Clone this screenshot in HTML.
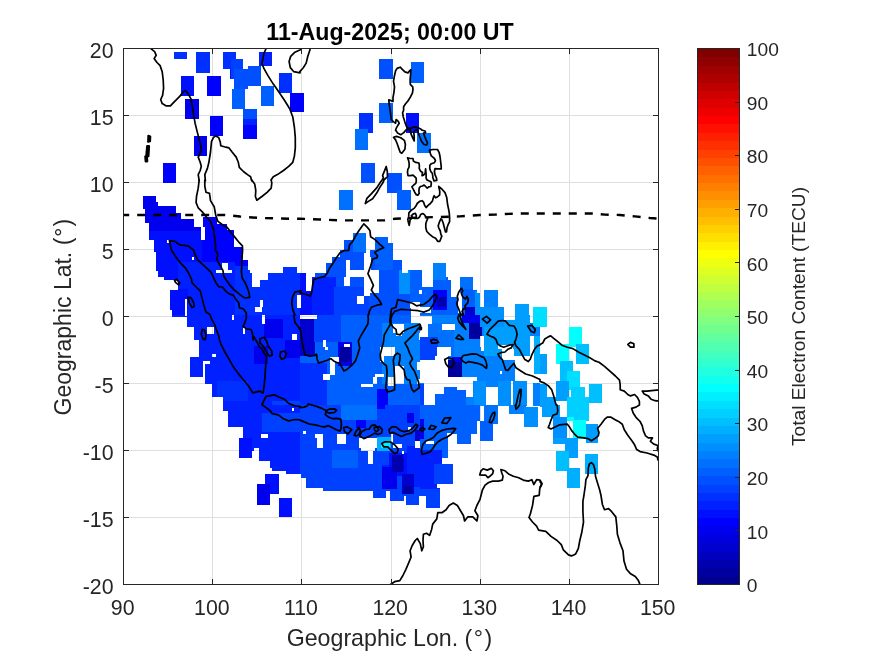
<!DOCTYPE html>
<html><head><meta charset="utf-8"><title>11-Aug-2025; 00:00 UT</title>
<style>html,body{margin:0;padding:0;background:#fff;}svg{display:block;}</style></head>
<body>
<svg width="875" height="656" viewBox="0 0 875 656">
<rect x="0" y="0" width="875" height="656" fill="#fff"/>
<defs><clipPath id="ax"><rect x="123.5" y="48.5" width="535.0" height="536.0"/></clipPath></defs>
<g stroke="#dfdfdf" stroke-width="1" shape-rendering="crispEdges">
<line x1="212.7" y1="48.5" x2="212.7" y2="584.5"/>
<line x1="301.8" y1="48.5" x2="301.8" y2="584.5"/>
<line x1="391.0" y1="48.5" x2="391.0" y2="584.5"/>
<line x1="480.2" y1="48.5" x2="480.2" y2="584.5"/>
<line x1="569.3" y1="48.5" x2="569.3" y2="584.5"/>
<line x1="123.5" y1="517.5" x2="658.5" y2="517.5"/>
<line x1="123.5" y1="450.5" x2="658.5" y2="450.5"/>
<line x1="123.5" y1="383.5" x2="658.5" y2="383.5"/>
<line x1="123.5" y1="316.5" x2="658.5" y2="316.5"/>
<line x1="123.5" y1="249.5" x2="658.5" y2="249.5"/>
<line x1="123.5" y1="182.5" x2="658.5" y2="182.5"/>
<line x1="123.5" y1="115.5" x2="658.5" y2="115.5"/>
</g>
<g clip-path="url(#ax)" shape-rendering="crispEdges">
<mask id="occ" maskUnits="userSpaceOnUse" x="0" y="0" width="875" height="656"><rect x="0" y="0" width="875" height="656" fill="#000"/><rect x="173.90" y="52.20" width="13.17" height="6.79" fill="#fff"/><rect x="196.11" y="52.20" width="13.78" height="20.57" fill="#fff"/><rect x="223.27" y="52.20" width="12.96" height="16.46" fill="#fff"/><rect x="230.47" y="58.99" width="12.34" height="19.95" fill="#fff"/><rect x="234.17" y="68.66" width="13.78" height="20.16" fill="#fff"/><rect x="247.95" y="65.57" width="12.96" height="19.95" fill="#fff"/><rect x="259.27" y="52.20" width="12.96" height="13.37" fill="#fff"/><rect x="181.10" y="75.86" width="12.96" height="19.95" fill="#fff"/><rect x="207.02" y="75.86" width="13.78" height="19.95" fill="#fff"/><rect x="232.11" y="88.82" width="12.75" height="19.95" fill="#fff"/><rect x="260.91" y="85.53" width="12.96" height="20.16" fill="#fff"/><rect x="279.43" y="72.77" width="12.75" height="19.95" fill="#fff"/><rect x="290.33" y="92.73" width="13.17" height="19.75" fill="#fff"/><rect x="185.01" y="98.90" width="13.78" height="19.75" fill="#fff"/><rect x="243.43" y="108.77" width="13.37" height="10.29" fill="#fff"/><rect x="243.43" y="119.06" width="13.37" height="6.17" fill="#fff"/><rect x="243.43" y="125.23" width="13.37" height="13.37" fill="#fff"/><rect x="210.10" y="115.97" width="12.75" height="19.95" fill="#fff"/><rect x="194.06" y="135.93" width="12.96" height="19.75" fill="#fff"/><rect x="163.20" y="162.87" width="12.75" height="19.95" fill="#fff"/><rect x="379.20" y="58.99" width="13.78" height="19.95" fill="#fff"/><rect x="411.09" y="62.07" width="12.96" height="20.57" fill="#fff"/><rect x="379.20" y="103.01" width="13.78" height="19.75" fill="#fff"/><rect x="359.25" y="112.89" width="13.78" height="19.95" fill="#fff"/><rect x="355.13" y="128.93" width="12.75" height="20.98" fill="#fff"/><rect x="406.35" y="112.89" width="12.55" height="19.95" fill="#fff"/><rect x="417.26" y="133.05" width="13.58" height="19.54" fill="#fff"/><rect x="361.30" y="162.87" width="13.37" height="19.95" fill="#fff"/><rect x="387.43" y="172.95" width="14.40" height="20.16" fill="#fff"/><rect x="339.09" y="190.29" width="13.99" height="19.54" fill="#fff"/><rect x="396.69" y="190.29" width="14.40" height="19.54" fill="#fff"/><rect x="484.11" y="290.06" width="13.99" height="18.51" fill="#fff"/><rect x="480.00" y="306.93" width="24.07" height="20.16" fill="#fff"/><rect x="514.97" y="304.05" width="13.99" height="19.95" fill="#fff"/><rect x="533.07" y="307.13" width="13.78" height="19.95" fill="#fff"/><rect x="239.31" y="437.66" width="12.75" height="20.16" fill="#fff"/><rect x="265.23" y="474.07" width="13.58" height="19.75" fill="#fff"/><rect x="257.21" y="483.94" width="12.55" height="20.98" fill="#fff"/><rect x="279.02" y="497.93" width="12.75" height="19.54" fill="#fff"/><rect x="540.00" y="315.00" width="6.86" height="11.66" fill="#fff"/><rect x="569.07" y="327.07" width="12.75" height="20.16" fill="#fff"/><rect x="556.18" y="344.07" width="12.89" height="19.61" fill="#fff"/><rect x="575.93" y="344.07" width="13.03" height="19.61" fill="#fff"/><rect x="540.00" y="354.09" width="6.86" height="19.89" fill="#fff"/><rect x="560.30" y="360.94" width="12.62" height="19.89" fill="#fff"/><rect x="566.74" y="371.23" width="13.30" height="19.20" fill="#fff"/><rect x="556.18" y="381.10" width="12.89" height="19.61" fill="#fff"/><rect x="571.27" y="387.00" width="13.71" height="19.89" fill="#fff"/><rect x="588.96" y="383.98" width="13.03" height="19.47" fill="#fff"/><rect x="540.00" y="383.57" width="6.86" height="23.31" fill="#fff"/><rect x="567.43" y="397.29" width="21.94" height="9.60" fill="#fff"/><rect x="542.74" y="397.29" width="13.44" height="9.60" fill="#fff"/><rect x="542.06" y="405.00" width="17.83" height="11.66" fill="#fff"/><rect x="567.43" y="405.00" width="21.26" height="15.77" fill="#fff"/><rect x="567.43" y="416.66" width="6.86" height="4.11" fill="#fff"/><rect x="572.91" y="420.09" width="13.03" height="18.51" fill="#fff"/><rect x="553.03" y="416.66" width="13.71" height="21.26" fill="#fff"/><rect x="585.94" y="424.20" width="12.34" height="19.20" fill="#fff"/><rect x="553.03" y="437.91" width="13.71" height="6.17" fill="#fff"/><rect x="565.37" y="437.91" width="12.34" height="19.89" fill="#fff"/><rect x="556.18" y="450.94" width="12.89" height="19.89" fill="#fff"/><rect x="567.43" y="468.09" width="12.62" height="19.89" fill="#fff"/><rect x="584.98" y="454.10" width="12.89" height="19.47" fill="#fff"/><rect x="483.77" y="405.00" width="14.40" height="18.51" fill="#fff"/><rect x="480.34" y="420.77" width="12.34" height="19.89" fill="#fff"/><rect x="509.14" y="405.00" width="17.14" height="8.50" fill="#fff"/><rect x="524.23" y="407.06" width="13.71" height="19.89" fill="#fff"/><rect x="142.89" y="195.90" width="13.26" height="6.88" fill="#fff"/><rect x="142.89" y="202.48" width="15.32" height="3.39" fill="#fff"/><rect x="142.89" y="205.56" width="33.21" height="3.39" fill="#fff"/><rect x="144.95" y="208.65" width="31.16" height="4.41" fill="#fff"/><rect x="144.95" y="212.76" width="36.30" height="4.41" fill="#fff"/><rect x="144.95" y="216.88" width="36.30" height="2.77" fill="#fff"/><rect x="203.16" y="216.88" width="13.67" height="2.77" fill="#fff"/><rect x="144.95" y="219.35" width="49.26" height="3.59" fill="#fff"/><rect x="203.16" y="219.35" width="13.67" height="3.59" fill="#fff"/><rect x="149.27" y="222.64" width="44.94" height="1.74" fill="#fff"/><rect x="203.16" y="222.64" width="13.67" height="1.74" fill="#fff"/><rect x="149.27" y="224.08" width="44.94" height="2.97" fill="#fff"/><rect x="203.16" y="224.08" width="23.96" height="2.97" fill="#fff"/><rect x="149.27" y="226.75" width="51.73" height="3.39" fill="#fff"/><rect x="204.60" y="226.75" width="22.52" height="3.39" fill="#fff"/><rect x="149.27" y="229.84" width="51.73" height="9.97" fill="#fff"/><rect x="204.60" y="229.84" width="29.72" height="9.97" fill="#fff"/><rect x="153.79" y="239.51" width="80.53" height="7.50" fill="#fff"/><rect x="153.79" y="246.71" width="87.73" height="5.44" fill="#fff"/><rect x="155.85" y="251.85" width="85.67" height="8.53" fill="#fff"/><rect x="155.85" y="260.08" width="92.25" height="7.50" fill="#fff"/><rect x="155.85" y="267.28" width="92.25" height="3.39" fill="#fff"/><rect x="283.39" y="267.28" width="13.67" height="3.39" fill="#fff"/><rect x="157.91" y="270.36" width="92.25" height="3.39" fill="#fff"/><rect x="283.39" y="270.36" width="13.67" height="3.39" fill="#fff"/><rect x="157.91" y="273.45" width="93.90" height="3.39" fill="#fff"/><rect x="267.96" y="273.45" width="33.21" height="3.39" fill="#fff"/><rect x="164.49" y="276.54" width="87.32" height="3.80" fill="#fff"/><rect x="267.96" y="276.54" width="33.21" height="3.80" fill="#fff"/><rect x="177.86" y="280.03" width="73.95" height="7.09" fill="#fff"/><rect x="259.74" y="280.03" width="41.44" height="7.09" fill="#fff"/><rect x="177.86" y="286.82" width="123.32" height="3.39" fill="#fff"/><rect x="170.25" y="289.91" width="130.93" height="19.84" fill="#fff"/><rect x="172.10" y="309.45" width="129.08" height="6.47" fill="#fff"/><rect x="352.65" y="233.08" width="13.33" height="4.41" fill="#fff"/><rect x="352.65" y="237.19" width="13.33" height="3.04" fill="#fff"/><rect x="375.00" y="237.19" width="12.92" height="3.04" fill="#fff"/><rect x="344.01" y="239.94" width="21.97" height="3.04" fill="#fff"/><rect x="375.00" y="239.94" width="12.92" height="3.04" fill="#fff"/><rect x="344.01" y="242.68" width="21.97" height="7.84" fill="#fff"/><rect x="375.00" y="242.68" width="18.13" height="7.84" fill="#fff"/><rect x="339.62" y="250.22" width="26.36" height="2.36" fill="#fff"/><rect x="369.79" y="250.22" width="23.34" height="2.36" fill="#fff"/><rect x="339.62" y="252.28" width="24.30" height="5.10" fill="#fff"/><rect x="369.79" y="252.28" width="23.34" height="5.10" fill="#fff"/><rect x="332.08" y="257.08" width="31.84" height="3.04" fill="#fff"/><rect x="371.16" y="257.08" width="21.97" height="3.04" fill="#fff"/><rect x="332.08" y="259.82" width="14.01" height="3.73" fill="#fff"/><rect x="349.91" y="259.82" width="14.01" height="3.73" fill="#fff"/><rect x="371.16" y="259.82" width="30.75" height="3.73" fill="#fff"/><rect x="325.91" y="263.25" width="20.19" height="7.16" fill="#fff"/><rect x="349.91" y="263.25" width="14.01" height="7.16" fill="#fff"/><rect x="371.16" y="263.25" width="30.75" height="7.16" fill="#fff"/><rect x="325.91" y="270.11" width="20.19" height="3.04" fill="#fff"/><rect x="378.71" y="270.11" width="23.20" height="3.04" fill="#fff"/><rect x="408.19" y="270.11" width="11.96" height="3.04" fill="#fff"/><rect x="299.85" y="272.85" width="6.06" height="4.14" fill="#fff"/><rect x="314.66" y="272.85" width="31.43" height="4.14" fill="#fff"/><rect x="378.71" y="272.85" width="41.44" height="4.14" fill="#fff"/><rect x="299.85" y="276.69" width="6.06" height="9.49" fill="#fff"/><rect x="311.92" y="276.69" width="32.39" height="9.49" fill="#fff"/><rect x="349.91" y="276.69" width="14.01" height="9.49" fill="#fff"/><rect x="378.71" y="276.69" width="41.44" height="9.49" fill="#fff"/><rect x="299.85" y="285.88" width="6.06" height="5.10" fill="#fff"/><rect x="311.92" y="285.88" width="52.00" height="5.10" fill="#fff"/><rect x="378.71" y="285.88" width="41.44" height="5.10" fill="#fff"/><rect x="299.85" y="290.68" width="64.07" height="3.04" fill="#fff"/><rect x="378.71" y="290.68" width="41.44" height="3.04" fill="#fff"/><rect x="299.85" y="293.42" width="64.07" height="3.04" fill="#fff"/><rect x="369.79" y="293.42" width="50.36" height="3.04" fill="#fff"/><rect x="299.85" y="296.16" width="57.21" height="7.84" fill="#fff"/><rect x="363.62" y="296.16" width="56.53" height="7.84" fill="#fff"/><rect x="299.85" y="303.71" width="120.30" height="11.96" fill="#fff"/><rect x="432.89" y="262.98" width="13.19" height="7.43" fill="#fff"/><rect x="409.85" y="270.11" width="12.37" height="6.88" fill="#fff"/><rect x="432.89" y="270.11" width="13.19" height="6.88" fill="#fff"/><rect x="409.85" y="276.69" width="12.37" height="3.32" fill="#fff"/><rect x="432.89" y="276.69" width="14.97" height="3.32" fill="#fff"/><rect x="459.91" y="276.69" width="13.33" height="3.32" fill="#fff"/><rect x="409.85" y="279.71" width="12.37" height="7.84" fill="#fff"/><rect x="432.89" y="279.71" width="18.13" height="7.84" fill="#fff"/><rect x="459.91" y="279.71" width="13.33" height="7.84" fill="#fff"/><rect x="409.85" y="287.25" width="41.17" height="3.04" fill="#fff"/><rect x="459.91" y="287.25" width="13.33" height="3.04" fill="#fff"/><rect x="409.85" y="289.99" width="41.17" height="3.73" fill="#fff"/><rect x="459.91" y="289.99" width="17.44" height="3.73" fill="#fff"/><rect x="483.91" y="289.99" width="14.01" height="3.73" fill="#fff"/><rect x="409.85" y="293.42" width="41.17" height="3.73" fill="#fff"/><rect x="459.91" y="293.42" width="20.19" height="3.73" fill="#fff"/><rect x="483.91" y="293.42" width="14.01" height="3.73" fill="#fff"/><rect x="409.85" y="296.85" width="70.24" height="10.59" fill="#fff"/><rect x="483.91" y="296.85" width="14.01" height="10.59" fill="#fff"/><rect x="409.85" y="307.14" width="94.24" height="8.53" fill="#fff"/><rect x="515.18" y="307.14" width="14.01" height="8.53" fill="#fff"/><rect x="172.10" y="314.85" width="128.05" height="2.36" fill="#fff"/><rect x="187.12" y="316.91" width="113.03" height="10.17" fill="#fff"/><rect x="193.91" y="326.78" width="106.24" height="13.05" fill="#fff"/><rect x="199.05" y="339.54" width="101.10" height="17.79" fill="#fff"/><rect x="190.20" y="357.02" width="109.95" height="19.84" fill="#fff"/><rect x="205.22" y="376.56" width="94.93" height="7.50" fill="#fff"/><rect x="211.80" y="383.76" width="88.35" height="13.67" fill="#fff"/><rect x="222.71" y="397.14" width="77.44" height="13.67" fill="#fff"/><rect x="228.26" y="410.51" width="71.89" height="16.76" fill="#fff"/><rect x="243.28" y="426.96" width="56.87" height="11.61" fill="#fff"/><rect x="239.16" y="438.28" width="60.99" height="12.64" fill="#fff"/><rect x="299.85" y="314.85" width="120.30" height="90.81" fill="#fff"/><rect x="431.51" y="314.85" width="72.30" height="5.79" fill="#fff"/><rect x="515.85" y="314.85" width="14.01" height="5.79" fill="#fff"/><rect x="532.99" y="314.85" width="7.16" height="5.79" fill="#fff"/><rect x="431.51" y="320.34" width="98.36" height="3.04" fill="#fff"/><rect x="532.99" y="320.34" width="7.16" height="3.04" fill="#fff"/><rect x="431.51" y="323.08" width="108.64" height="0.99" fill="#fff"/><rect x="428.08" y="323.76" width="14.01" height="6.47" fill="#fff"/><rect x="454.82" y="323.76" width="85.33" height="6.47" fill="#fff"/><rect x="428.08" y="329.94" width="112.07" height="5.79" fill="#fff"/><rect x="428.08" y="335.42" width="52.41" height="1.67" fill="#fff"/><rect x="483.62" y="335.42" width="46.24" height="1.67" fill="#fff"/><rect x="533.68" y="335.42" width="6.47" height="1.67" fill="#fff"/><rect x="419.85" y="336.79" width="60.64" height="7.84" fill="#fff"/><rect x="483.62" y="336.79" width="46.24" height="7.84" fill="#fff"/><rect x="533.68" y="336.79" width="6.47" height="7.84" fill="#fff"/><rect x="419.85" y="344.34" width="60.64" height="3.04" fill="#fff"/><rect x="483.62" y="344.34" width="14.70" height="3.04" fill="#fff"/><rect x="513.11" y="344.34" width="16.76" height="3.04" fill="#fff"/><rect x="533.68" y="344.34" width="6.47" height="3.04" fill="#fff"/><rect x="419.85" y="347.08" width="17.44" height="2.36" fill="#fff"/><rect x="450.71" y="347.08" width="29.79" height="2.36" fill="#fff"/><rect x="483.62" y="347.08" width="14.70" height="2.36" fill="#fff"/><rect x="513.11" y="347.08" width="16.76" height="2.36" fill="#fff"/><rect x="533.68" y="347.08" width="6.47" height="2.36" fill="#fff"/><rect x="419.85" y="349.14" width="17.44" height="1.67" fill="#fff"/><rect x="450.71" y="349.14" width="29.79" height="1.67" fill="#fff"/><rect x="483.62" y="349.14" width="18.81" height="1.67" fill="#fff"/><rect x="514.48" y="349.14" width="15.39" height="1.67" fill="#fff"/><rect x="533.68" y="349.14" width="6.47" height="1.67" fill="#fff"/><rect x="419.85" y="350.51" width="17.44" height="5.79" fill="#fff"/><rect x="450.71" y="350.51" width="51.73" height="5.79" fill="#fff"/><rect x="514.48" y="350.51" width="15.39" height="5.79" fill="#fff"/><rect x="533.68" y="350.51" width="6.47" height="5.79" fill="#fff"/><rect x="419.85" y="355.99" width="15.39" height="4.41" fill="#fff"/><rect x="447.96" y="355.99" width="54.47" height="4.41" fill="#fff"/><rect x="533.68" y="355.99" width="6.47" height="4.41" fill="#fff"/><rect x="447.96" y="360.11" width="66.81" height="14.01" fill="#fff"/><rect x="533.68" y="360.11" width="6.47" height="14.01" fill="#fff"/><rect x="447.96" y="373.82" width="66.81" height="3.04" fill="#fff"/><rect x="477.45" y="376.56" width="37.33" height="4.41" fill="#fff"/><rect x="473.34" y="380.68" width="37.33" height="3.04" fill="#fff"/><rect x="513.11" y="380.68" width="14.01" height="3.04" fill="#fff"/><rect x="419.85" y="383.42" width="4.41" height="3.73" fill="#fff"/><rect x="473.34" y="383.42" width="37.33" height="3.73" fill="#fff"/><rect x="513.11" y="383.42" width="14.01" height="3.73" fill="#fff"/><rect x="532.99" y="383.42" width="7.16" height="3.73" fill="#fff"/><rect x="419.85" y="386.85" width="4.41" height="3.73" fill="#fff"/><rect x="443.85" y="386.85" width="13.33" height="3.73" fill="#fff"/><rect x="473.34" y="386.85" width="12.64" height="3.73" fill="#fff"/><rect x="498.02" y="386.85" width="12.64" height="3.73" fill="#fff"/><rect x="513.11" y="386.85" width="14.01" height="3.73" fill="#fff"/><rect x="532.99" y="386.85" width="7.16" height="3.73" fill="#fff"/><rect x="419.85" y="390.28" width="4.41" height="3.73" fill="#fff"/><rect x="443.85" y="390.28" width="22.24" height="3.73" fill="#fff"/><rect x="473.34" y="390.28" width="12.64" height="3.73" fill="#fff"/><rect x="498.02" y="390.28" width="12.64" height="3.73" fill="#fff"/><rect x="513.11" y="390.28" width="14.01" height="3.73" fill="#fff"/><rect x="532.99" y="390.28" width="7.16" height="3.73" fill="#fff"/><rect x="419.85" y="393.71" width="4.41" height="3.73" fill="#fff"/><rect x="434.94" y="393.71" width="31.16" height="3.73" fill="#fff"/><rect x="473.34" y="393.71" width="12.64" height="3.73" fill="#fff"/><rect x="498.02" y="393.71" width="12.64" height="3.73" fill="#fff"/><rect x="513.11" y="393.71" width="14.01" height="3.73" fill="#fff"/><rect x="532.99" y="393.71" width="7.16" height="3.73" fill="#fff"/><rect x="419.85" y="397.14" width="4.41" height="8.53" fill="#fff"/><rect x="434.94" y="397.14" width="51.04" height="8.53" fill="#fff"/><rect x="498.02" y="397.14" width="12.64" height="8.53" fill="#fff"/><rect x="513.11" y="397.14" width="14.01" height="8.53" fill="#fff"/><rect x="532.99" y="397.14" width="7.16" height="8.53" fill="#fff"/><rect x="419.85" y="404.85" width="59.96" height="16.07" fill="#fff"/><rect x="419.85" y="420.62" width="57.21" height="13.33" fill="#fff"/><rect x="419.85" y="433.65" width="28.41" height="9.90" fill="#fff"/><rect x="456.88" y="433.65" width="14.01" height="9.90" fill="#fff"/><rect x="419.85" y="443.25" width="28.41" height="14.70" fill="#fff"/><rect x="419.85" y="457.65" width="22.24" height="6.47" fill="#fff"/><rect x="419.85" y="463.82" width="33.21" height="20.19" fill="#fff"/><rect x="419.85" y="483.71" width="17.44" height="4.41" fill="#fff"/><rect x="419.85" y="487.82" width="20.19" height="7.84" fill="#fff"/><rect x="299.85" y="404.85" width="120.30" height="68.87" fill="#fff"/><rect x="301.22" y="473.42" width="118.93" height="4.41" fill="#fff"/><rect x="306.02" y="477.54" width="114.13" height="10.59" fill="#fff"/><rect x="323.16" y="487.82" width="96.99" height="3.04" fill="#fff"/><rect x="373.22" y="490.56" width="12.64" height="5.10" fill="#fff"/><rect x="390.36" y="490.56" width="29.79" height="5.10" fill="#fff"/><rect x="223.05" y="404.85" width="77.10" height="5.79" fill="#fff"/><rect x="227.85" y="410.34" width="72.30" height="16.76" fill="#fff"/><rect x="242.94" y="426.79" width="57.21" height="11.27" fill="#fff"/><rect x="239.10" y="437.76" width="61.05" height="10.17" fill="#fff"/><rect x="239.10" y="447.64" width="12.78" height="10.31" fill="#fff"/><rect x="258.98" y="447.64" width="41.17" height="10.31" fill="#fff"/><rect x="258.98" y="457.65" width="41.17" height="3.04" fill="#fff"/><rect x="269.68" y="460.39" width="30.47" height="7.84" fill="#fff"/><rect x="272.01" y="467.94" width="28.14" height="3.04" fill="#fff"/><rect x="286.14" y="470.68" width="14.01" height="3.04" fill="#fff"/><rect x="372.88" y="490.99" width="13.26" height="6.88" fill="#fff"/><rect x="389.95" y="490.99" width="13.67" height="6.88" fill="#fff"/><rect x="405.79" y="490.99" width="13.26" height="6.88" fill="#fff"/><rect x="425.75" y="490.99" width="14.29" height="6.88" fill="#fff"/><rect x="389.95" y="497.58" width="13.67" height="3.39" fill="#fff"/><rect x="405.79" y="497.58" width="13.26" height="3.39" fill="#fff"/><rect x="425.75" y="497.58" width="14.29" height="3.39" fill="#fff"/><rect x="405.79" y="500.66" width="13.26" height="4.62" fill="#fff"/><rect x="425.75" y="500.66" width="14.29" height="4.62" fill="#fff"/><rect x="425.75" y="504.98" width="14.29" height="2.77" fill="#fff"/><rect x="167.31" y="240.07" width="3.09" height="2.67" fill="#000"/><rect x="192.00" y="257.14" width="2.06" height="2.67" fill="#000"/><rect x="222.24" y="262.70" width="5.76" height="7.20" fill="#000"/><rect x="216.27" y="269.90" width="15.84" height="2.67" fill="#000"/><rect x="185.42" y="299.31" width="2.06" height="16.46" fill="#000"/><rect x="254.74" y="306.51" width="7.20" height="5.14" fill="#000"/><rect x="260.30" y="300.34" width="2.67" height="6.17" fill="#000"/><rect x="296.91" y="295.20" width="4.11" height="12.34" fill="#000"/><rect x="411.09" y="301.80" width="8.91" height="13.71" fill="#000"/><rect x="418.91" y="290.14" width="3.43" height="3.43" fill="#000"/><rect x="410.00" y="301.80" width="8.23" height="6.17" fill="#000"/><rect x="416.86" y="307.29" width="13.71" height="5.21" fill="#000"/><rect x="458.27" y="292.89" width="3.84" height="19.89" fill="#000"/><rect x="207.43" y="327.34" width="6.58" height="6.58" fill="#000"/><rect x="211.95" y="353.67" width="4.11" height="3.50" fill="#000"/><rect x="203.31" y="360.67" width="6.58" height="3.70" fill="#000"/><rect x="203.31" y="364.37" width="2.06" height="12.34" fill="#000"/><rect x="232.11" y="315.00" width="2.06" height="5.14" fill="#000"/><rect x="261.94" y="315.00" width="3.09" height="9.26" fill="#000"/><rect x="243.02" y="327.75" width="2.06" height="6.17" fill="#000"/><rect x="291.77" y="333.93" width="5.14" height="5.76" fill="#000"/><rect x="261.53" y="433.70" width="6.58" height="4.11" fill="#000"/><rect x="291.77" y="407.57" width="2.67" height="3.70" fill="#000"/><rect x="253.71" y="447.69" width="5.14" height="3.09" fill="#000"/><rect x="300.00" y="315.00" width="17.14" height="4.11" fill="#000"/><rect x="322.63" y="339.69" width="3.43" height="7.54" fill="#000"/><rect x="325.37" y="346.54" width="2.74" height="3.43" fill="#000"/><rect x="343.89" y="343.80" width="6.17" height="3.43" fill="#000"/><rect x="330.17" y="356.83" width="8.91" height="4.80" fill="#000"/><rect x="330.17" y="361.63" width="4.80" height="13.03" fill="#000"/><rect x="323.31" y="373.97" width="6.86" height="6.17" fill="#000"/><rect x="411.09" y="315.00" width="8.91" height="8.23" fill="#000"/><rect x="393.26" y="323.91" width="10.97" height="8.91" fill="#000"/><rect x="396.00" y="332.83" width="6.17" height="2.74" fill="#000"/><rect x="379.54" y="347.23" width="15.09" height="8.91" fill="#000"/><rect x="380.23" y="356.14" width="3.70" height="6.17" fill="#000"/><rect x="375.15" y="373.97" width="8.78" height="2.74" fill="#000"/><rect x="372.69" y="376.71" width="4.11" height="6.86" fill="#000"/><rect x="361.03" y="383.57" width="11.66" height="3.43" fill="#000"/><rect x="394.63" y="365.74" width="9.60" height="17.83" fill="#000"/><rect x="387.77" y="377.40" width="6.86" height="8.91" fill="#000"/><rect x="418.63" y="332.83" width="1.37" height="6.86" fill="#000"/><rect x="417.26" y="361.63" width="2.74" height="8.23" fill="#000"/><rect x="417.26" y="379.46" width="2.74" height="4.11" fill="#000"/><rect x="499.82" y="370.54" width="2.19" height="3.43" fill="#000"/><rect x="529.71" y="315.00" width="3.43" height="8.23" fill="#000"/><rect x="426.17" y="441.34" width="8.23" height="2.74" fill="#000"/><rect x="446.74" y="433.11" width="5.49" height="2.74" fill="#000"/><rect x="302.74" y="430.78" width="3.43" height="3.29" fill="#000"/><rect x="314.81" y="434.07" width="8.50" height="3.84" fill="#000"/><rect x="317.14" y="437.91" width="6.17" height="9.87" fill="#000"/><rect x="337.03" y="433.80" width="8.91" height="10.29" fill="#000"/><rect x="358.97" y="437.91" width="17.83" height="9.60" fill="#000"/><rect x="361.03" y="447.51" width="13.71" height="3.02" fill="#000"/><rect x="367.89" y="450.53" width="5.21" height="13.44" fill="#000"/><rect x="390.51" y="434.49" width="2.74" height="9.60" fill="#000"/><rect x="393.26" y="444.09" width="8.91" height="3.43" fill="#000"/><rect x="414.93" y="440.93" width="5.07" height="6.86" fill="#000"/><rect x="402.17" y="450.94" width="2.06" height="3.15" fill="#000"/><rect x="407.66" y="426.94" width="3.15" height="4.11" fill="#000"/><rect x="260.91" y="433.80" width="6.86" height="4.11" fill="#000"/><rect x="291.77" y="408.02" width="2.33" height="3.15" fill="#000"/><rect x="367.89" y="450.00" width="5.14" height="13.99" fill="#000"/></mask>
<g mask="url(#occ)">
<rect x="123.5" y="48.5" width="535.0" height="536.0" fill="#0010ff"/>
<rect x="140.6" y="192.3" width="65.8" height="41.1" fill="#0000ef"/>
<rect x="146.7" y="231.4" width="59.7" height="43.2" fill="#0010ff"/>
<rect x="202.3" y="215.0" width="49.4" height="51.4" fill="#0000ff"/>
<rect x="177.6" y="262.3" width="57.6" height="53.5" fill="#0020ff"/>
<rect x="235.2" y="266.4" width="69.9" height="49.4" fill="#0030ff"/>
<rect x="169.4" y="289.0" width="18.5" height="26.7" fill="#0010ff"/>
<rect x="300.0" y="225.0" width="120.0" height="90.5" fill="#0050ff"/>
<rect x="352.8" y="233.2" width="13.0" height="19.2" fill="#0070ff"/>
<rect x="312.3" y="277.1" width="23.3" height="38.4" fill="#0020ff"/>
<rect x="300.0" y="273.0" width="12.3" height="42.5" fill="#0010ff"/>
<rect x="398.7" y="270.3" width="21.3" height="23.3" fill="#008fff"/>
<rect x="375.2" y="237.3" width="18.1" height="32.9" fill="#0060ff"/>
<rect x="334.3" y="286.7" width="34.3" height="28.8" fill="#0040ff"/>
<rect x="410.0" y="262.0" width="96.0" height="53.5" fill="#0060ff"/>
<rect x="433.0" y="263.1" width="12.9" height="16.7" fill="#0080ff"/>
<rect x="410.0" y="270.3" width="12.1" height="19.2" fill="#0060ff"/>
<rect x="433.3" y="289.5" width="14.0" height="20.6" fill="#0000ff"/>
<rect x="436.7" y="297.0" width="9.2" height="10.3" fill="#0000af"/>
<rect x="460.1" y="276.8" width="13.0" height="12.6" fill="#0070ff"/>
<rect x="484.1" y="290.1" width="13.7" height="17.1" fill="#008fff"/>
<rect x="515.3" y="303.9" width="13.7" height="11.7" fill="#00afff"/>
<rect x="464.9" y="307.3" width="9.6" height="8.2" fill="#0000cf"/>
<rect x="474.5" y="290.8" width="6.9" height="24.7" fill="#008fff"/>
<rect x="169.4" y="315.0" width="131.7" height="135.8" fill="#0020ff"/>
<rect x="264.0" y="319.1" width="18.5" height="18.5" fill="#0000ef"/>
<rect x="253.7" y="345.9" width="14.4" height="18.5" fill="#0000ef"/>
<rect x="284.6" y="339.7" width="16.5" height="18.5" fill="#0000ef"/>
<rect x="216.7" y="380.8" width="30.9" height="20.6" fill="#0030ff"/>
<rect x="272.2" y="401.4" width="28.8" height="28.8" fill="#0040ff"/>
<rect x="243.4" y="417.9" width="57.6" height="32.9" fill="#0030ff"/>
<rect x="300.0" y="315.0" width="120.0" height="90.5" fill="#0060ff"/>
<rect x="300.0" y="319.1" width="15.1" height="37.0" fill="#0000cf"/>
<rect x="313.7" y="315.0" width="27.4" height="27.4" fill="#0040ff"/>
<rect x="338.4" y="342.4" width="13.7" height="23.3" fill="#0000ef"/>
<rect x="339.8" y="346.5" width="11.0" height="15.1" fill="#00009f"/>
<rect x="300.0" y="363.0" width="27.4" height="42.5" fill="#0030ff"/>
<rect x="376.8" y="389.1" width="11.0" height="16.5" fill="#0000ff"/>
<rect x="382.3" y="323.2" width="37.7" height="60.3" fill="#0080ff"/>
<rect x="352.1" y="367.1" width="24.7" height="38.4" fill="#0060ff"/>
<rect x="420.0" y="315.0" width="120.0" height="90.5" fill="#0080ff"/>
<rect x="420.0" y="323.2" width="34.3" height="37.0" fill="#0070ff"/>
<rect x="420.0" y="336.9" width="17.8" height="23.3" fill="#0040ff"/>
<rect x="483.8" y="315.0" width="45.9" height="41.1" fill="#009fff"/>
<rect x="462.0" y="315.0" width="18.5" height="7.7" fill="#0000ef"/>
<rect x="469.1" y="322.7" width="12.6" height="16.7" fill="#00009f"/>
<rect x="448.1" y="360.3" width="13.7" height="16.5" fill="#00009f"/>
<rect x="451.5" y="356.8" width="10.3" height="4.8" fill="#0000ef"/>
<rect x="533.1" y="315.0" width="6.9" height="8.2" fill="#00efff"/>
<rect x="533.8" y="335.6" width="6.2" height="38.4" fill="#00afff"/>
<rect x="420.0" y="383.6" width="4.1" height="21.9" fill="#0040ff"/>
<rect x="435.1" y="387.0" width="30.9" height="18.5" fill="#0060ff"/>
<rect x="473.5" y="380.8" width="12.3" height="24.7" fill="#008fff"/>
<rect x="498.2" y="380.8" width="28.8" height="24.7" fill="#008fff"/>
<rect x="420.0" y="405.0" width="60.3" height="90.5" fill="#0060ff"/>
<rect x="420.0" y="418.7" width="4.1" height="20.6" fill="#0000ef"/>
<rect x="420.0" y="450.3" width="21.9" height="45.3" fill="#0020ff"/>
<rect x="433.7" y="464.0" width="19.2" height="19.9" fill="#0040ff"/>
<rect x="300.0" y="405.0" width="120.0" height="90.5" fill="#0040ff"/>
<rect x="376.8" y="437.2" width="14.4" height="13.7" fill="#00afff"/>
<rect x="380.9" y="442.0" width="8.9" height="5.5" fill="#00efff"/>
<rect x="341.1" y="405.0" width="35.7" height="15.1" fill="#0070ff"/>
<rect x="331.5" y="450.3" width="26.1" height="17.8" fill="#0060ff"/>
<rect x="300.0" y="418.7" width="16.5" height="41.1" fill="#0040ff"/>
<rect x="407.0" y="446.1" width="13.0" height="41.1" fill="#0020ff"/>
<rect x="382.3" y="465.3" width="13.7" height="29.6" fill="#0020ff"/>
<rect x="389.1" y="453.0" width="17.8" height="23.3" fill="#0010ff"/>
<rect x="391.9" y="457.1" width="12.3" height="13.7" fill="#0000cf"/>
<rect x="404.2" y="484.5" width="5.5" height="11.0" fill="#0000cf"/>
<rect x="415.2" y="429.7" width="4.8" height="11.0" fill="#0000cf"/>
<rect x="407.0" y="413.2" width="6.9" height="9.6" fill="#0000ef"/>
<rect x="356.2" y="420.1" width="9.6" height="8.2" fill="#0000ff"/>
<rect x="376.8" y="405.0" width="8.2" height="4.1" fill="#0000ff"/>
<rect x="221.1" y="405.0" width="78.9" height="71.3" fill="#0020ff"/>
<rect x="262.3" y="413.2" width="37.7" height="19.2" fill="#0040ff"/>
<rect x="373.0" y="489.1" width="71.0" height="20.6" fill="#0040ff"/>
<rect x="382.3" y="466.5" width="14.4" height="22.6" fill="#0000ef"/>
<rect x="391.5" y="455.1" width="11.3" height="16.5" fill="#0000af"/>
<rect x="401.8" y="473.7" width="12.3" height="20.6" fill="#0000cf"/>
<rect x="403.9" y="486.0" width="8.2" height="7.6" fill="#00009f"/>
<rect x="173.9" y="52.2" width="13.2" height="6.8" fill="#0030ff"/>
<rect x="196.1" y="52.2" width="13.8" height="20.6" fill="#0030ff"/>
<rect x="223.3" y="52.2" width="13.0" height="16.5" fill="#0030ff"/>
<rect x="230.5" y="59.0" width="12.3" height="20.0" fill="#0040ff"/>
<rect x="234.2" y="68.7" width="13.8" height="20.2" fill="#0050ff"/>
<rect x="248.0" y="65.6" width="13.0" height="20.0" fill="#0050ff"/>
<rect x="259.3" y="52.2" width="13.0" height="13.4" fill="#0020ff"/>
<rect x="181.1" y="75.9" width="13.0" height="20.0" fill="#0010ff"/>
<rect x="207.0" y="75.9" width="13.8" height="20.0" fill="#0000ff"/>
<rect x="232.1" y="88.8" width="12.8" height="20.0" fill="#0060ff"/>
<rect x="260.9" y="85.5" width="13.0" height="20.2" fill="#0060ff"/>
<rect x="279.4" y="72.8" width="12.8" height="20.0" fill="#0030ff"/>
<rect x="290.3" y="92.7" width="13.2" height="19.7" fill="#0000ff"/>
<rect x="185.0" y="98.9" width="13.8" height="19.7" fill="#0000ef"/>
<rect x="243.4" y="108.8" width="13.4" height="10.3" fill="#0050ff"/>
<rect x="243.4" y="119.1" width="13.4" height="6.2" fill="#0020ff"/>
<rect x="243.4" y="125.2" width="13.4" height="13.4" fill="#0000ff"/>
<rect x="210.1" y="116.0" width="12.8" height="20.0" fill="#0000ff"/>
<rect x="194.1" y="135.9" width="13.0" height="19.7" fill="#0000ef"/>
<rect x="163.2" y="162.9" width="12.8" height="20.0" fill="#0000ff"/>
<rect x="379.2" y="59.0" width="13.8" height="20.0" fill="#0050ff"/>
<rect x="411.1" y="62.1" width="13.0" height="20.6" fill="#0060ff"/>
<rect x="379.2" y="103.0" width="13.8" height="19.7" fill="#0060ff"/>
<rect x="359.2" y="112.9" width="13.8" height="20.0" fill="#0030ff"/>
<rect x="355.1" y="128.9" width="12.8" height="21.0" fill="#0070ff"/>
<rect x="406.4" y="112.9" width="12.5" height="20.0" fill="#0010ff"/>
<rect x="417.3" y="133.0" width="13.6" height="19.5" fill="#0070ff"/>
<rect x="361.3" y="162.9" width="13.4" height="20.0" fill="#0050ff"/>
<rect x="387.4" y="173.0" width="14.4" height="20.2" fill="#0050ff"/>
<rect x="339.1" y="190.3" width="14.0" height="19.5" fill="#0070ff"/>
<rect x="396.7" y="190.3" width="14.4" height="19.5" fill="#0060ff"/>
<rect x="484.1" y="290.1" width="14.0" height="18.5" fill="#0080ff"/>
<rect x="480.0" y="306.9" width="24.1" height="20.2" fill="#008fff"/>
<rect x="515.0" y="304.0" width="14.0" height="20.0" fill="#009fff"/>
<rect x="533.1" y="307.1" width="13.8" height="20.0" fill="#00dfff"/>
<rect x="239.3" y="437.7" width="12.8" height="20.2" fill="#0010ff"/>
<rect x="265.2" y="474.1" width="13.6" height="19.7" fill="#0010ff"/>
<rect x="257.2" y="483.9" width="12.5" height="21.0" fill="#0000ef"/>
<rect x="279.0" y="497.9" width="12.8" height="19.5" fill="#0010ff"/>
<rect x="540.0" y="315.0" width="6.9" height="11.7" fill="#00dfff"/>
<rect x="569.1" y="327.1" width="12.8" height="20.2" fill="#00ffff"/>
<rect x="556.2" y="344.1" width="12.9" height="19.6" fill="#00ffff"/>
<rect x="575.9" y="344.1" width="13.0" height="19.6" fill="#00bfff"/>
<rect x="540.0" y="354.1" width="6.9" height="19.9" fill="#009fff"/>
<rect x="560.3" y="360.9" width="12.6" height="19.9" fill="#00bfff"/>
<rect x="566.7" y="371.2" width="13.3" height="19.2" fill="#00dfff"/>
<rect x="556.2" y="381.1" width="12.9" height="19.6" fill="#009fff"/>
<rect x="571.3" y="387.0" width="13.7" height="19.9" fill="#00cfff"/>
<rect x="589.0" y="384.0" width="13.0" height="19.5" fill="#00bfff"/>
<rect x="540.0" y="383.6" width="6.9" height="23.3" fill="#009fff"/>
<rect x="567.4" y="397.3" width="21.9" height="9.6" fill="#00cfff"/>
<rect x="542.7" y="397.3" width="13.4" height="9.6" fill="#009fff"/>
<rect x="542.1" y="405.0" width="17.8" height="11.7" fill="#009fff"/>
<rect x="567.4" y="405.0" width="21.3" height="15.8" fill="#00cfff"/>
<rect x="567.4" y="416.7" width="6.9" height="4.1" fill="#00ffff"/>
<rect x="572.9" y="420.1" width="13.0" height="18.5" fill="#00ffff"/>
<rect x="553.0" y="416.7" width="13.7" height="21.3" fill="#008fff"/>
<rect x="585.9" y="424.2" width="12.3" height="19.2" fill="#009fff"/>
<rect x="553.0" y="437.9" width="13.7" height="6.2" fill="#009fff"/>
<rect x="565.4" y="437.9" width="12.3" height="19.9" fill="#009fff"/>
<rect x="556.2" y="450.9" width="12.9" height="19.9" fill="#00bfff"/>
<rect x="567.4" y="468.1" width="12.6" height="19.9" fill="#00afff"/>
<rect x="585.0" y="454.1" width="12.9" height="19.5" fill="#00afff"/>
<rect x="483.8" y="405.0" width="14.4" height="18.5" fill="#0070ff"/>
<rect x="480.3" y="420.8" width="12.3" height="19.9" fill="#0060ff"/>
<rect x="509.1" y="405.0" width="17.1" height="8.5" fill="#0080ff"/>
<rect x="524.2" y="407.1" width="13.7" height="19.9" fill="#008fff"/>
</g>
</g>
<g clip-path="url(#ax)" fill="none" stroke="#000" stroke-width="1.7" stroke-linejoin="round" stroke-linecap="round">
<path d="M150.9 48.7 L154.6 51.6 L156.2 55.3 L154.1 58.6 L157.0 62.5 L160.1 65.6 L162.2 71.7 L163.2 80.0 L163.6 88.2 L162.6 95.4 L160.7 99.5 L162.2 103.6 L166.3 105.9 L170.4 105.9 L173.5 102.6 L179.7 96.4 L183.8 91.3 L185.4 90.7 L187.9 93.3 L191.0 98.9 L192.4 106.7 L193.6 114.9 L195.1 123.2 L197.1 131.4 L199.2 139.6 L200.8 145.8 L201.3 149.9 L199.8 154.0 L198.2 157.1 L200.2 162.3 L201.3 166.4 L200.2 170.5 L198.2 174.6 L199.2 180.8"/>
<path d="M205.4 180.8 L204.8 174.6 L207.4 168.4 L208.9 162.3 L210.5 152.0 L211.5 141.7 L213.6 137.2 L215.7 136.1 L218.7 137.6 L220.2 141.7 L220.8 145.8 L225.9 147.2 L229.0 147.9 L232.1 152.0 L236.2 157.1 L238.3 162.3 L239.3 167.4 L243.4 171.5 L247.5 174.6 L250.6 176.7 L251.7 180.8"/>
<path d="M266.1 48.7 L264.0 53.2 L263.0 58.4 L261.9 63.5 L264.0 68.7 L268.1 75.9 L273.3 84.1 L278.4 91.3 L284.6 100.5 L289.7 108.8 L292.8 117.0 L294.4 127.3 L295.3 137.6 L295.3 147.9 L294.4 156.1 L292.8 162.3 L288.7 166.4 L283.5 170.5 L277.4 174.6 L273.3 176.7 L271.2 179.7"/>
<path d="M301.0 49.5 L294.9 52.2 L290.7 56.3 L289.1 61.5 L290.3 67.6 L293.8 71.7 L300.0 72.8 L300.0 71.3 L303.1 68.0 L306.2 63.1 L307.8 56.3 L309.9 50.1 L310.3 47.1"/>
<path d="M148.4 135.9 L150.2 136.5 L150.0 141.3 L148.2 141.7 Z" stroke-width="2.2"/>
<path d="M147.2 146.2 L149.0 146.2 L148.4 156.1 L146.3 156.1 Z" stroke-width="2.2"/>
<path d="M145.3 156.5 L146.9 156.5 L147.2 161.4 L145.7 161.4 Z" stroke-width="2.2"/>
<path d="M400.2 67.2 L397.1 68.4 L395.6 70.8 L394.5 75.5 L393.5 81.2 L394.5 86.9 L394.0 92.1 L393.0 97.3 L393.0 101.4 L388.8 99.8 L389.1 103.5 L389.9 108.7 L390.6 113.8 L391.2 119.5 L394.0 122.1 L395.6 123.2 L396.1 119.5 L398.1 121.1 L399.2 123.2 L397.6 125.8 L396.1 128.4 L395.6 130.4 L395.6 130.0 L397.6 133.1 L400.7 134.7 L403.8 132.6 L405.9 130.0 L408.0 129.2 L410.1 130.0 L411.1 134.1 L413.2 138.8 L414.2 140.9 L414.2 136.2 L413.7 132.1 L415.3 130.0 L417.3 129.5 L418.4 133.1 L419.9 137.3 L421.5 141.4 L424.1 144.5 L426.7 145.0 L427.5 143.0 L426.1 139.9 L424.6 136.2 L423.5 133.1 L425.6 132.6 L425.1 131.0 L421.5 130.0 L421.5 129.4 L417.3 127.3 L414.2 126.8 L411.1 128.4 L408.5 128.4 L406.4 126.3 L404.9 122.1 L403.3 117.0 L402.6 112.8 L403.6 110.2 L403.6 106.8 L405.4 104.0 L408.0 100.9 L410.6 96.7 L412.4 93.1 L413.0 89.5 L412.7 86.9 L410.3 84.3 L410.1 79.6 L410.6 74.4 L410.9 69.5 L409.6 70.8 L408.0 72.9 L404.9 71.9 L402.3 69.3 Z"/>
<path d="M393.5 137.3 L396.6 136.4 L400.7 137.8 L404.4 140.4 L405.4 144.5 L404.9 149.2 L401.8 153.3 L400.2 152.3 L398.7 148.1 L397.1 143.5 L395.6 139.9 Z"/>
<path d="M429.3 150.2 L432.9 149.5 L437.5 149.5 L439.1 152.3 L440.1 157.0 L440.7 162.1 L441.2 166.3 L441.2 168.9 L438.1 168.9 L435.0 168.6 L434.4 171.5 L435.0 174.6 L436.5 178.2 L436.8 180.3 L433.9 180.8 L432.9 177.7 L432.4 173.5 L430.8 171.5 L429.8 168.9 L429.8 165.3 L431.3 163.7 L434.4 162.7 L435.5 160.6 L434.4 158.5 L432.9 157.2 L431.3 155.9 L430.3 153.3 Z"/>
<path d="M407.5 157.8 L410.1 158.5 L413.0 158.5 L413.4 161.1 L415.8 162.4 L418.9 163.0 L419.4 165.8 L419.2 168.4 L420.4 171.0 L422.5 172.5 L422.0 175.6 L423.5 175.1 L425.1 173.5 L425.6 168.9 L426.1 173.5 L426.1 177.7 L426.7 179.8 L428.7 180.8 L431.0 181.8 L431.3 183.9 L430.8 186.5 L428.7 186.8 L427.2 188.1 L425.6 186.5 L424.1 185.0 L422.5 186.0 L420.4 186.5 L419.2 188.1 L418.9 191.2 L419.2 193.2 L417.8 195.3 L416.3 194.8 L414.7 192.2 L413.2 189.1 L411.9 186.8 L413.7 185.0 L415.8 183.4 L416.3 180.8 L416.1 178.2 L414.7 176.7 L413.0 175.1 L410.6 175.6 L408.0 175.6 L407.5 172.5 L407.8 169.4 L409.0 167.3 L409.2 164.2 L408.8 161.1 Z"/>
<path d="M438.7 186.4 L441.8 189.0 L445.0 192.6 L446.8 197.8 L447.5 204.0 L448.6 209.2 L449.3 213.3 L449.6 217.5 L449.6 221.6 L448.1 224.7 L447.0 227.8 L446.5 232.0 L445.5 232.0 L444.4 227.8 L443.1 222.7 L441.8 219.5 L440.8 219.0 L439.6 221.6 L438.2 225.8 L438.7 227.8 L440.3 231.0 L440.8 234.1 L441.8 236.1 L440.8 238.7 L439.8 241.3 L437.7 241.3 L435.6 238.2 L432.5 236.7 L429.4 234.1 L426.8 231.5 L425.8 227.8 L425.8 223.7 L426.8 220.6 L427.8 218.5 L425.8 217.0 L424.7 214.9 L422.7 213.5 L420.6 214.6 L419.6 217.0 L417.5 218.5 L414.9 218.5 L412.3 218.0 L410.2 219.5 L409.7 222.7 L409.2 225.3 L408.5 222.7 L407.8 219.5 L408.7 216.4 L408.9 212.8 L411.3 210.2 L414.4 208.1 L415.9 206.1 L417.2 203.5 L419.6 201.4 L422.1 200.7 L423.7 202.4 L424.7 205.6 L426.1 207.6 L427.8 205.6 L430.4 203.5 L432.5 200.9 L433.3 197.8 L434.1 195.7 L435.6 197.8 L437.7 196.7 L439.6 195.2 L439.8 191.6 Z"/>
<path d="M411.3 215.9 L413.3 213.8 L415.4 213.3 L416.4 215.9 L415.9 218.0 L413.3 218.0 Z"/>
<path d="M365.3 203.5 L366.9 198.3 L371.5 193.6 L376.7 187.9 L380.4 182.2 L383.5 178.1 L382.6 175.6 L384.7 170.4 L386.2 166.5 L387.3 171.5 L387.5 176.7 L384.1 179.8 L382.9 182.7 L379.8 187.4 L376.7 193.1 L372.6 198.8 L368.4 201.4 Z"/>
<path d="M301.0 290.7 L294.9 292.1 L292.4 297.3 L291.8 303.4 L292.8 309.6 L294.9 314.9 L293.8 315.0 L294.9 322.2 L297.9 326.3 L300.0 329.4 L300.0 328.0 L301.4 336.9 L302.7 345.2 L304.8 354.8 L309.6 356.1 L315.1 355.5 L316.5 354.1 L317.1 358.9 L318.5 363.0 L323.3 361.6 L327.4 360.3 L330.9 358.6 L333.6 360.9 L336.3 362.3 L339.8 363.0 L341.8 367.1 L343.9 371.0 L347.3 369.2 L351.4 365.7 L355.5 360.9 L357.6 354.8 L359.7 347.9 L358.3 341.1 L361.0 335.6 L365.1 328.7 L367.9 323.9 L368.3 319.1 L367.9 315.0 L368.6 315.0 L369.3 311.4 L371.3 307.3 L376.8 305.2 L381.6 304.3 L378.9 299.7 L374.7 294.9 L371.3 290.1 L373.4 285.3 L370.6 279.2 L367.9 273.7 L370.6 266.1 L372.7 259.0 L376.8 257.9 L377.5 255.9 L374.7 252.4 L378.9 249.7 L383.7 247.6 L379.5 244.2 L374.7 239.4 L370.6 236.7 L369.9 230.5 L367.2 227.1 L363.8 223.9 L362.4 225.7 L359.0 230.5 L355.5 236.0 L352.8 241.2 L349.6 244.9 L348.7 250.4 L343.9 250.6 L339.8 253.1 L335.9 258.6 L332.9 263.4 L329.5 268.2 L327.4 273.0 L324.7 276.4 L319.2 277.8 L313.7 279.6 L312.6 285.3 L311.7 292.2 L310.3 296.0 L305.5 294.3 L300.0 292.9 L301.0 291.1 Z"/>
<path d="M389.8 320.5 L390.2 324.6 L387.8 328.7 L384.3 334.9 L383.4 342.4 L381.6 349.3 L380.2 354.8 L380.9 360.3 L383.7 363.7 L386.4 365.7 L387.1 372.6 L386.4 380.8 L385.7 387.7 L387.1 391.8 L391.2 391.1 L394.6 389.7 L394.6 383.6 L394.4 375.3 L393.9 367.1 L393.3 360.3 L394.6 355.5 L397.4 353.1 L400.1 354.8 L399.8 360.3 L398.7 364.4 L401.5 367.1 L404.2 369.9 L404.9 375.3 L407.0 379.5 L409.7 380.1 L410.4 383.6 L411.8 389.1 L413.8 391.8 L416.6 389.7 L419.3 387.7 L418.6 382.2 L416.6 376.7 L414.5 371.2 L411.1 366.4 L409.7 363.0 L412.5 358.9 L409.7 353.4 L407.7 347.9 L404.9 343.1 L408.3 339.7 L412.5 335.6 L415.9 331.5 L418.6 328.0 L420.7 326.0 L420.0 324.3 L413.8 326.7 L408.3 328.7 L402.9 331.5 L400.1 334.9 L396.7 334.2 L396.0 329.4 L393.3 327.3 L391.2 324.6 L390.8 319.1 L392.2 315.0 L394.6 311.4 L401.5 309.3 L409.7 310.0 L418.2 310.7 L423.7 312.1 L429.2 310.0 L432.6 305.9 L435.4 300.4 L436.7 296.3 L435.4 294.3 L432.6 296.3 L429.2 300.4 L423.7 304.5 L420.0 305.2 L416.6 305.9 L412.5 303.2 L404.2 301.1 L397.6 299.7 L396.0 307.3 L391.6 308.9 L390.5 315.0 Z"/>
<path d="M461.4 288.1 L462.8 290.8 L461.4 293.6 L462.8 297.0 L465.5 299.1 L466.9 296.3 L468.3 299.1 L467.6 303.2 L464.9 305.9 L465.5 309.3 L463.5 308.7 L462.1 311.4 L463.5 315.0 L459.8 315.0 L460.5 317.7 L461.8 321.9 L463.9 326.0 L465.9 329.4 L464.6 328.0 L461.8 325.3 L459.1 321.9 L457.7 317.7 L458.7 315.0 L460.7 315.0 L460.1 312.8 L458.0 307.3 L456.6 303.9 L458.0 299.7 L457.3 296.3 L458.7 292.2 Z"/>
<path d="M455.9 338.3 L458.7 334.9 L461.1 336.9 L463.6 339.4 L459.8 339.4 Z"/>
<path d="M430.7 340.4 L433.7 339.4 L437.1 340.4 L438.5 342.4 L435.1 343.1 L431.7 343.1 Z"/>
<path d="M420.0 327.1 L421.1 327.6 L421.1 329.3 L420.0 329.3 Z" stroke-width="2.2"/>
<path d="M482.4 319.1 L486.5 316.4 L490.6 319.8 L487.2 323.2 Z"/>
<path d="M444.7 359.6 L448.1 357.8 L452.2 358.9 L454.3 362.3 L452.9 365.7 L450.9 367.8 L448.1 366.8 L445.8 363.7 Z"/>
<path d="M461.1 358.9 L463.2 355.5 L467.3 354.8 L472.1 353.8 L476.2 354.1 L480.3 356.1 L483.8 357.5 L485.8 360.9 L486.8 365.1 L486.5 368.5 L484.5 366.8 L482.4 365.1 L477.6 363.3 L472.8 362.3 L468.7 361.6 L465.9 363.0 L463.2 361.6 Z"/>
<path d="M527.7 326.0 L531.8 325.3 L535.2 329.4 L534.5 332.6 L531.1 331.5 Z"/>
<path d="M516.0 405.5 L518.1 395.9 L519.8 389.7 L521.2 389.7 L520.8 395.9 L519.4 405.5 L519.4 405.0 L518.1 407.1 L516.0 409.1 L515.3 405.0 Z"/>
<path d="M486.9 334.2 L489.9 329.4 L494.1 325.3 L498.2 321.2 L502.3 320.5 L505.7 321.2 L509.1 325.3 L513.9 326.0 L516.0 329.4 L517.1 334.2 L516.0 339.0 L514.6 342.4 L516.0 345.9 L519.4 349.3 L522.2 354.8 L524.9 359.6 L528.3 361.6 L530.4 358.9 L531.8 354.8 L534.5 349.3 L537.3 345.9 L540.0 344.9 L540.0 344.5 L542.7 343.1 L544.8 339.0 L548.2 336.9 L550.7 335.8 L553.7 338.3 L557.8 341.7 L561.9 345.2 L567.4 347.2 L572.9 348.6 L578.4 352.0 L583.9 354.8 L589.4 357.5 L594.9 360.9 L599.0 362.3 L604.5 366.4 L609.9 371.2 L615.4 376.0 L619.5 380.1 L620.2 384.9 L620.2 389.7 L624.3 391.1 L627.8 394.5 L630.5 395.9 L634.6 394.5 L637.4 397.3 L639.4 401.4 L639.4 405.0 L639.4 405.0 L636.0 407.1 L631.6 408.4 L633.3 413.2 L636.0 417.3 L640.1 421.5 L642.2 425.6 L643.5 431.1 L645.6 435.9 L648.3 437.9 L652.5 437.9 L650.4 441.3 L653.8 444.1 L657.9 445.5 L657.3 448.9 L658.6 451.6 L660.7 454.4 L660.7 460.5 L657.9 459.9 L657.3 457.1 L653.8 455.1 L647.0 453.0 L640.1 451.6 L636.7 449.6 L634.6 444.8 L631.9 440.7 L627.8 435.2 L624.3 429.7 L622.3 424.2 L619.5 422.1 L614.7 419.4 L610.6 417.1 L607.2 417.1 L604.5 419.4 L601.0 424.2 L597.6 428.3 L599.0 432.4 L598.3 435.9 L594.9 438.6 L591.4 440.7 L588.0 438.6 L583.9 437.9 L577.7 437.2 L574.3 433.8 L571.5 430.4 L569.5 426.9 L567.4 424.2 L559.2 424.9 L555.1 426.9 L551.0 429.0 L548.2 427.6 L549.6 424.2 L551.0 420.1 L553.0 415.3 L557.1 413.9 L557.8 410.5 L557.1 405.0 L556.2 405.0 L555.1 401.4 L553.7 395.9 L551.7 389.7 L548.2 385.6 L544.1 382.9 L540.0 381.5 L540.0 379.5 L532.5 376.0 L525.6 374.0 L520.1 370.5 L516.0 367.8 L513.9 363.3 L510.5 367.1 L507.8 370.5 L505.7 369.9 L503.9 364.4 L502.3 359.6 L499.5 356.8 L497.9 354.1 L500.9 352.7 L505.0 352.0 L507.8 349.3 L511.2 347.9 L513.3 344.5 L509.1 345.2 L503.7 347.2 L500.2 345.9 L497.5 343.8 L496.1 339.7 L494.1 337.6 L490.6 336.3 Z"/>
<path d="M627.8 344.5 L630.5 342.4 L633.9 343.8 L633.9 347.2 L630.5 347.2 Z"/>
<path d="M660.7 389.7 L653.8 390.4 L647.0 391.1 L642.2 391.1 L644.2 393.9 L648.3 395.9 L651.1 399.3 L655.2 400.7 L660.7 401.4"/>
<path d="M540.0 481.8 L542.1 483.9 L540.7 486.6 L540.0 487.0"/>
<path d="M422.1 454.4 L421.4 450.3 L422.7 444.8 L425.5 441.3 L430.3 439.3 L433.7 437.2 L437.1 433.1 L441.9 430.4 L447.4 429.0 L452.9 428.3 L455.7 428.6 L453.6 431.7 L450.9 434.5 L446.7 437.2 L441.9 439.3 L437.8 442.0 L435.1 444.8 L433.0 448.2 L430.3 451.6 L426.2 453.3 Z"/>
<path d="M441.9 422.8 L444.7 418.0 L450.9 417.6 L448.8 420.8 L446.7 423.5 Z"/>
<path d="M428.9 429.0 L431.0 425.3 L436.2 426.7 L433.7 429.4 Z"/>
<path d="M420.0 429.0 L422.7 427.6 L424.8 429.0 L422.1 431.1 L420.0 430.0 Z"/>
<path d="M489.3 422.1 L490.6 417.3 L492.7 413.2 L494.7 412.1 L494.7 415.3 L493.4 419.4 L491.3 422.8 Z"/>
<path d="M479.7 474.9 L481.0 470.8 L483.1 468.8 L487.2 470.1 L491.3 468.4 L493.4 470.8 L492.7 473.6 L489.9 476.3 L487.9 477.7 L485.8 475.2 L482.4 475.2 Z"/>
<path d="M266.1 396.3 L274.3 394.8 L279.4 397.3 L284.6 399.3 L288.7 403.5 L294.9 405.9 L300.0 406.5 L300.0 407.7 L304.1 407.1 L307.5 405.7 L308.2 403.9 L311.7 405.0 L316.5 406.4 L321.9 408.4 L326.1 410.5 L325.4 414.6 L328.8 417.3 L332.9 418.7 L337.0 418.4 L340.9 419.4 L341.4 424.2 L340.9 429.0 L339.8 431.1 L336.3 429.7 L332.2 427.6 L328.1 425.6 L324.7 426.9 L320.6 426.3 L315.1 424.9 L309.6 424.2 L304.8 422.1 L300.0 420.1 L300.0 419.9 L294.9 419.5 L288.7 420.9 L283.5 418.9 L278.4 414.8 L272.2 413.7 L270.2 410.7 L266.1 407.6 L261.9 404.5 Z"/>
<path d="M326.7 410.5 L329.5 409.1 L334.3 408.8 L336.8 410.2 L334.3 412.5 L329.5 413.2 L326.7 411.9 Z"/>
<path d="M343.6 427.6 L347.3 426.9 L351.8 429.7 L348.0 433.8 L344.6 431.7 Z"/>
<path d="M354.2 435.2 L356.2 431.1 L359.0 427.6 L360.3 430.4 L359.0 434.5 L356.2 435.9 Z"/>
<path d="M359.7 435.9 L361.7 431.7 L365.1 429.7 L369.3 429.0 L371.3 425.6 L374.7 424.9 L376.8 426.9 L379.5 426.7 L382.3 429.7 L381.6 433.1 L377.5 434.5 L374.7 433.1 L371.3 435.2 L367.2 437.2 L363.8 438.6 Z"/>
<path d="M374.1 427.6 L376.8 426.9 L378.9 429.7 L376.8 431.7 L374.7 430.4 Z"/>
<path d="M381.6 443.4 L385.0 441.8 L390.5 442.0 L394.6 444.8 L398.1 448.9 L397.4 452.3 L394.6 453.7 L391.2 450.3 L387.8 446.8 L383.7 446.8 Z"/>
<path d="M389.1 429.7 L391.9 426.9 L396.0 426.9 L400.1 430.4 L404.2 431.7 L409.7 430.4 L413.1 427.6 L415.9 424.2 L417.9 425.6 L415.2 429.7 L411.1 433.1 L405.6 434.5 L401.5 436.5 L397.4 434.5 L393.3 432.4 L389.8 433.1 Z"/>
<path d="M169.4 240.7 L174.5 241.3 L179.7 244.8 L187.9 245.8 L192.0 248.9 L193.5 250.0 L194.9 254.1 L197.6 259.6 L201.7 263.7 L206.5 267.8 L211.3 272.6 L213.4 277.4 L216.1 282.9 L218.9 286.8 L222.3 287.0 L225.7 291.1 L229.1 293.9 L233.3 295.3 L236.0 299.4 L238.7 302.8 L239.4 307.6 L243.5 309.0 L246.3 313.1 L246.3 318.6 L244.2 324.1 L242.9 326.1 L246.3 328.9 L251.1 329.5 L252.5 333.7 L253.1 340.0 L253.7 336.6 L256.8 341.7 L258.9 345.9 L261.9 348.9 L264.0 353.1 L266.5 356.1 L265.6 366.4 L265.0 376.7 L264.0 387.0 L263.0 393.2 L259.9 391.1 L255.8 392.1 L252.7 392.8 L248.6 386.0 L243.4 379.8 L238.3 373.6 L233.1 366.4 L229.0 359.2 L224.9 352.0 L220.8 343.8 L219.5 340.0 L218.9 336.4 L216.8 330.9 L214.7 324.7 L212.0 319.9 L209.9 314.5 L205.8 311.7 L204.5 307.6 L203.1 302.1 L201.7 296.6 L200.3 291.1 L196.2 287.0 L192.1 282.9 L191.4 278.8 L188.7 273.3 L185.3 267.8 L181.1 263.7 L175.7 256.9 L171.5 250.0 L170.4 245.8 Z"/>
<path d="M259.9 338.7 L264.0 337.2 L266.5 340.7 L268.1 345.9 L271.8 351.0 L272.2 355.1 L269.1 356.1 L266.5 352.0 L263.0 345.9 L259.9 342.8 Z"/>
<path d="M280.5 352.0 L284.6 351.0 L286.2 354.1 L284.6 358.2 L281.5 359.2 L280.0 356.1 Z"/>
<path d="M202.3 329.4 L204.3 329.8 L206.0 334.5 L205.4 339.7 L203.3 339.3 L201.3 334.5 Z"/>
<path d="M174.5 280.4 L176.6 279.4 L179.7 282.9 L178.6 284.9 L175.5 282.4 Z"/>
<path d="M187.9 297.3 L191.0 297.7 L193.6 302.4 L194.1 306.5 L192.0 307.5 L189.5 303.4 Z"/>
<path d="M199.2 180.0 L198.2 188.2 L196.5 196.5 L196.1 202.6 L198.2 207.8 L202.3 211.9 L206.4 217.0 L210.5 221.1 L213.6 229.4 L214.6 237.6 L215.7 245.8 L215.4 250.0 L217.9 254.1 L216.8 259.6 L219.5 264.4 L223.0 270.6 L223.7 276.1 L226.4 280.2 L229.8 285.0 L233.3 289.1 L237.4 292.5 L241.5 295.9 L244.9 298.0 L249.7 297.3 L249.0 292.5 L247.0 287.0 L244.9 282.2 L242.2 278.1 L241.5 271.9 L241.8 263.7 L242.2 255.5 L242.6 250.0 L242.4 245.8 L239.3 242.7 L235.2 237.6 L231.1 232.5 L227.0 227.3 L221.8 224.2 L217.7 221.1 L215.7 215.0 L214.2 206.7 L210.5 200.6 L209.5 193.4 L206.0 192.3 L204.8 186.2 L204.8 180.0"/>
<path d="M251.7 180.0 L254.7 184.1 L255.8 190.3 L255.4 196.5 L256.8 200.2 L261.9 196.5 L267.1 192.3 L271.2 188.2 L271.8 183.1 L271.2 180.0"/>
<path d="M388.5 585.8 L394.6 581.7 L399.8 580.6 L402.9 575.5 L405.9 569.3 L409.0 562.1 L411.1 557.0 L410.1 550.8 L412.1 545.7 L415.2 540.5 L417.3 538.5 L420.3 543.6 L421.8 550.8 L423.4 546.7 L423.0 540.5 L423.4 534.3 L426.5 533.3 L429.6 535.4 L431.7 529.2 L432.7 524.1 L436.8 518.9 L437.8 512.7 L441.9 512.7 L446.1 509.7 L449.1 505.5 L453.3 503.1 L457.4 505.5 L460.5 510.7 L463.5 515.8 L464.6 521.0 L467.7 516.9 L472.8 516.9 L476.9 521.0 L477.9 515.8 L474.9 510.7 L476.9 505.5 L480.0 499.4 L481.0 495.5 L482.4 490.0 L485.1 485.2 L488.6 482.5 L492.7 481.1 L498.2 481.1 L502.3 480.2 L503.0 476.3 L501.6 472.2 L500.9 469.5 L505.0 470.8 L509.1 474.3 L513.3 476.3 L518.7 477.7 L524.2 480.4 L528.3 481.1 L531.8 479.7 L533.8 484.5 L536.6 479.7 L540.0 480.2 L541.7 482.9 L539.7 489.1 L539.2 495.3 L533.9 496.3 L532.5 505.5 L530.4 513.8 L529.0 517.5 L532.5 522.0 L536.6 526.1 L538.6 530.2 L545.8 531.3 L551.0 536.4 L557.1 540.5 L561.3 544.6 L563.3 549.8 L568.5 554.9 L571.5 555.9 L575.7 553.9 L578.3 548.7 L579.8 540.5 L581.8 532.3 L583.5 522.0 L582.9 511.7 L582.9 501.4 L583.9 495.5 L585.3 485.9 L585.9 479.7 L588.0 475.6 L588.3 468.1 L589.4 464.0 L591.4 462.6 L593.5 464.7 L594.9 469.5 L595.5 476.3 L597.6 483.2 L599.7 490.0 L601.0 495.5 L602.4 504.5 L604.5 509.7 L608.6 508.6 L611.7 511.7 L615.8 516.9 L616.8 526.1 L617.4 534.3 L619.9 542.6 L623.0 550.8 L624.0 561.1 L626.5 569.3 L630.2 573.4 L635.3 576.5 L638.4 580.6 L640.5 585.8"/>
</g>
<path clip-path="url(#ax)" d="M123.2 215.0 L225.0 215.0 L240.0 216.5 L260.0 218.0 L290.0 218.7 L300.0 218.7 L320.0 219.5 L340.0 220.4 L385.0 220.4 L395.0 218.8 L420.0 217.5 L460.0 216.4 L480.0 215.0 L495.0 214.6 L505.0 214.0 L521.0 213.5 L593.0 213.5 L605.0 214.6 L620.0 215.0 L635.0 216.4 L650.0 218.0 L658.8 218.6" fill="none" stroke="#000" stroke-width="2.4" stroke-dasharray="8 8" stroke-dashoffset="2"/>
<rect x="123.5" y="48.5" width="535.0" height="536.0" fill="none" stroke="#262626" stroke-width="1" shape-rendering="crispEdges"/>
<g stroke="#262626" stroke-width="1" shape-rendering="crispEdges">
<line x1="212.7" y1="584.5" x2="212.7" y2="579.0"/>
<line x1="212.7" y1="48.5" x2="212.7" y2="54.0"/>
<line x1="301.8" y1="584.5" x2="301.8" y2="579.0"/>
<line x1="301.8" y1="48.5" x2="301.8" y2="54.0"/>
<line x1="391.0" y1="584.5" x2="391.0" y2="579.0"/>
<line x1="391.0" y1="48.5" x2="391.0" y2="54.0"/>
<line x1="480.2" y1="584.5" x2="480.2" y2="579.0"/>
<line x1="480.2" y1="48.5" x2="480.2" y2="54.0"/>
<line x1="569.3" y1="584.5" x2="569.3" y2="579.0"/>
<line x1="569.3" y1="48.5" x2="569.3" y2="54.0"/>
<line x1="123.5" y1="517.5" x2="129.0" y2="517.5"/>
<line x1="658.5" y1="517.5" x2="653.0" y2="517.5"/>
<line x1="123.5" y1="450.5" x2="129.0" y2="450.5"/>
<line x1="658.5" y1="450.5" x2="653.0" y2="450.5"/>
<line x1="123.5" y1="383.5" x2="129.0" y2="383.5"/>
<line x1="658.5" y1="383.5" x2="653.0" y2="383.5"/>
<line x1="123.5" y1="316.5" x2="129.0" y2="316.5"/>
<line x1="658.5" y1="316.5" x2="653.0" y2="316.5"/>
<line x1="123.5" y1="249.5" x2="129.0" y2="249.5"/>
<line x1="658.5" y1="249.5" x2="653.0" y2="249.5"/>
<line x1="123.5" y1="182.5" x2="129.0" y2="182.5"/>
<line x1="658.5" y1="182.5" x2="653.0" y2="182.5"/>
<line x1="123.5" y1="115.5" x2="129.0" y2="115.5"/>
<line x1="658.5" y1="115.5" x2="653.0" y2="115.5"/>
</g>
<g font-family="'Liberation Sans', Arial, sans-serif" fill="#262626" font-size="21.33">
<text x="122.7" y="615.2" text-anchor="middle">90</text>
<text x="211.9" y="615.2" text-anchor="middle">100</text>
<text x="301.0" y="615.2" text-anchor="middle">110</text>
<text x="390.2" y="615.2" text-anchor="middle">120</text>
<text x="479.4" y="615.2" text-anchor="middle">130</text>
<text x="568.5" y="615.2" text-anchor="middle">140</text>
<text x="657.7" y="615.2" text-anchor="middle">150</text>
<text x="113.5" y="594.0" text-anchor="end">-20</text>
<text x="113.5" y="527.0" text-anchor="end">-15</text>
<text x="113.5" y="460.0" text-anchor="end">-10</text>
<text x="113.5" y="393.0" text-anchor="end">-5</text>
<text x="113.5" y="326.0" text-anchor="end">0</text>
<text x="113.5" y="259.0" text-anchor="end">5</text>
<text x="113.5" y="192.0" text-anchor="end">10</text>
<text x="113.5" y="125.0" text-anchor="end">15</text>
<text x="113.5" y="58.0" text-anchor="end">20</text>
</g>
<g font-family="'Liberation Sans', Arial, sans-serif" fill="#262626" font-size="23.2">
<text x="389.5" y="645.8" text-anchor="middle">Geographic Lon. (<tspan dx="1.5">&#176;</tspan><tspan dx="1.5">)</tspan></text>
<text transform="translate(70.6,317.1) rotate(-90)" text-anchor="middle" font-size="23">Geographic Lat. (<tspan dx="1">&#176;</tspan><tspan dx="1">)</tspan></text>
</g>
<text x="390.0" y="39.9" text-anchor="middle" font-family="'Liberation Sans', Arial, sans-serif" font-weight="bold" font-size="23.2" fill="#000">11-Aug-2025; 00:00 UT</text>
<g shape-rendering="crispEdges">
<rect x="697.5" y="576.12" width="42.0" height="8.88" fill="#00008f"/>
<rect x="697.5" y="567.75" width="42.0" height="8.88" fill="#00009f"/>
<rect x="697.5" y="559.38" width="42.0" height="8.88" fill="#0000af"/>
<rect x="697.5" y="551.00" width="42.0" height="8.88" fill="#0000bf"/>
<rect x="697.5" y="542.62" width="42.0" height="8.88" fill="#0000cf"/>
<rect x="697.5" y="534.25" width="42.0" height="8.88" fill="#0000df"/>
<rect x="697.5" y="525.88" width="42.0" height="8.88" fill="#0000ef"/>
<rect x="697.5" y="517.50" width="42.0" height="8.88" fill="#0000ff"/>
<rect x="697.5" y="509.12" width="42.0" height="8.88" fill="#0010ff"/>
<rect x="697.5" y="500.75" width="42.0" height="8.88" fill="#0020ff"/>
<rect x="697.5" y="492.38" width="42.0" height="8.88" fill="#0030ff"/>
<rect x="697.5" y="484.00" width="42.0" height="8.88" fill="#0040ff"/>
<rect x="697.5" y="475.62" width="42.0" height="8.88" fill="#0050ff"/>
<rect x="697.5" y="467.25" width="42.0" height="8.88" fill="#0060ff"/>
<rect x="697.5" y="458.88" width="42.0" height="8.88" fill="#0070ff"/>
<rect x="697.5" y="450.50" width="42.0" height="8.88" fill="#0080ff"/>
<rect x="697.5" y="442.12" width="42.0" height="8.88" fill="#008fff"/>
<rect x="697.5" y="433.75" width="42.0" height="8.88" fill="#009fff"/>
<rect x="697.5" y="425.38" width="42.0" height="8.88" fill="#00afff"/>
<rect x="697.5" y="417.00" width="42.0" height="8.88" fill="#00bfff"/>
<rect x="697.5" y="408.62" width="42.0" height="8.88" fill="#00cfff"/>
<rect x="697.5" y="400.25" width="42.0" height="8.88" fill="#00dfff"/>
<rect x="697.5" y="391.88" width="42.0" height="8.88" fill="#00efff"/>
<rect x="697.5" y="383.50" width="42.0" height="8.88" fill="#00ffff"/>
<rect x="697.5" y="375.12" width="42.0" height="8.88" fill="#10ffef"/>
<rect x="697.5" y="366.75" width="42.0" height="8.88" fill="#20ffdf"/>
<rect x="697.5" y="358.38" width="42.0" height="8.88" fill="#30ffcf"/>
<rect x="697.5" y="350.00" width="42.0" height="8.88" fill="#40ffbf"/>
<rect x="697.5" y="341.62" width="42.0" height="8.88" fill="#50ffaf"/>
<rect x="697.5" y="333.25" width="42.0" height="8.88" fill="#60ff9f"/>
<rect x="697.5" y="324.88" width="42.0" height="8.88" fill="#70ff8f"/>
<rect x="697.5" y="316.50" width="42.0" height="8.88" fill="#80ff80"/>
<rect x="697.5" y="308.12" width="42.0" height="8.88" fill="#8fff70"/>
<rect x="697.5" y="299.75" width="42.0" height="8.88" fill="#9fff60"/>
<rect x="697.5" y="291.38" width="42.0" height="8.88" fill="#afff50"/>
<rect x="697.5" y="283.00" width="42.0" height="8.88" fill="#bfff40"/>
<rect x="697.5" y="274.62" width="42.0" height="8.88" fill="#cfff30"/>
<rect x="697.5" y="266.25" width="42.0" height="8.88" fill="#dfff20"/>
<rect x="697.5" y="257.88" width="42.0" height="8.88" fill="#efff10"/>
<rect x="697.5" y="249.50" width="42.0" height="8.88" fill="#ffff00"/>
<rect x="697.5" y="241.12" width="42.0" height="8.88" fill="#ffef00"/>
<rect x="697.5" y="232.75" width="42.0" height="8.88" fill="#ffdf00"/>
<rect x="697.5" y="224.38" width="42.0" height="8.88" fill="#ffcf00"/>
<rect x="697.5" y="216.00" width="42.0" height="8.88" fill="#ffbf00"/>
<rect x="697.5" y="207.62" width="42.0" height="8.88" fill="#ffaf00"/>
<rect x="697.5" y="199.25" width="42.0" height="8.88" fill="#ff9f00"/>
<rect x="697.5" y="190.88" width="42.0" height="8.88" fill="#ff8f00"/>
<rect x="697.5" y="182.50" width="42.0" height="8.88" fill="#ff8000"/>
<rect x="697.5" y="174.12" width="42.0" height="8.88" fill="#ff7000"/>
<rect x="697.5" y="165.75" width="42.0" height="8.88" fill="#ff6000"/>
<rect x="697.5" y="157.38" width="42.0" height="8.88" fill="#ff5000"/>
<rect x="697.5" y="149.00" width="42.0" height="8.88" fill="#ff4000"/>
<rect x="697.5" y="140.62" width="42.0" height="8.88" fill="#ff3000"/>
<rect x="697.5" y="132.25" width="42.0" height="8.88" fill="#ff2000"/>
<rect x="697.5" y="123.88" width="42.0" height="8.88" fill="#ff1000"/>
<rect x="697.5" y="115.50" width="42.0" height="8.88" fill="#ff0000"/>
<rect x="697.5" y="107.12" width="42.0" height="8.88" fill="#ef0000"/>
<rect x="697.5" y="98.75" width="42.0" height="8.88" fill="#df0000"/>
<rect x="697.5" y="90.38" width="42.0" height="8.88" fill="#cf0000"/>
<rect x="697.5" y="82.00" width="42.0" height="8.88" fill="#bf0000"/>
<rect x="697.5" y="73.62" width="42.0" height="8.88" fill="#af0000"/>
<rect x="697.5" y="65.25" width="42.0" height="8.88" fill="#9f0000"/>
<rect x="697.5" y="56.88" width="42.0" height="8.88" fill="#8f0000"/>
<rect x="697.5" y="48.50" width="42.0" height="8.88" fill="#800000"/>
<rect x="697.5" y="48.5" width="42.0" height="536.0" fill="none" stroke="#262626" stroke-width="1"/>
<line x1="739.5" y1="530.9" x2="734.5" y2="530.9" stroke="#262626" stroke-width="1"/>
<line x1="739.5" y1="477.3" x2="734.5" y2="477.3" stroke="#262626" stroke-width="1"/>
<line x1="739.5" y1="423.7" x2="734.5" y2="423.7" stroke="#262626" stroke-width="1"/>
<line x1="739.5" y1="370.1" x2="734.5" y2="370.1" stroke="#262626" stroke-width="1"/>
<line x1="739.5" y1="316.5" x2="734.5" y2="316.5" stroke="#262626" stroke-width="1"/>
<line x1="739.5" y1="262.9" x2="734.5" y2="262.9" stroke="#262626" stroke-width="1"/>
<line x1="739.5" y1="209.3" x2="734.5" y2="209.3" stroke="#262626" stroke-width="1"/>
<line x1="739.5" y1="155.7" x2="734.5" y2="155.7" stroke="#262626" stroke-width="1"/>
<line x1="739.5" y1="102.1" x2="734.5" y2="102.1" stroke="#262626" stroke-width="1"/>
</g>
<g font-family="'Liberation Sans', Arial, sans-serif" fill="#262626" font-size="19.2">
<text x="746.8" y="592.1">0</text>
<text x="746.8" y="538.5">10</text>
<text x="746.8" y="484.9">20</text>
<text x="746.8" y="431.3">30</text>
<text x="746.8" y="377.7">40</text>
<text x="746.8" y="324.1">50</text>
<text x="746.8" y="270.5">60</text>
<text x="746.8" y="216.9">70</text>
<text x="746.8" y="163.3">80</text>
<text x="746.8" y="109.7">90</text>
<text x="746.8" y="56.1">100</text>
<text transform="translate(804.5,316.5) rotate(-90)" text-anchor="middle" font-size="19.2">Total Electron Content (TECU)</text>
</g>
</svg>
</body></html>
